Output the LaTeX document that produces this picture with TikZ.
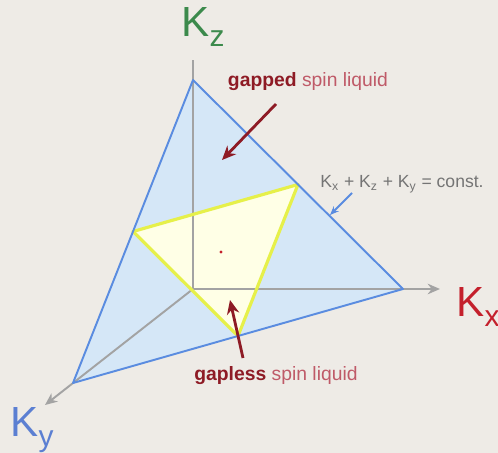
\documentclass[tikz,border=0pt]{standalone}
\usepackage{fontspec}
\setmainfont{Liberation Sans}
\usetikzlibrary{arrows.meta,calc}
\definecolor{paper}{HTML}{EEEBE6}
\definecolor{planefill}{HTML}{D5E7F7}
\definecolor{planeline}{HTML}{5A8CE0}
\definecolor{gapfill}{HTML}{FFFFE6}
\definecolor{gapline}{HTML}{E6F04A}
\definecolor{axisgray}{HTML}{A3A3A3}
\definecolor{kzcol}{HTML}{3C8A4C}
\definecolor{kxcol}{HTML}{C4202C}
\definecolor{kycol}{HTML}{5B7FD2}
\definecolor{darkred}{HTML}{8E1B25}
\definecolor{lightred}{HTML}{BF5A68}
\definecolor{constgray}{HTML}{747474}
\newcommand{\axsub}[1]{\raisebox{-0.22em}{\fontsize{17}{17}\selectfont #1}}

\begin{document}
\begin{tikzpicture}[
  x=0.02cm, y=-0.02cm,
  >=Stealth,
  font=\fontsize{10}{12}\selectfont,
  axis/.style={draw=axisgray,line width=1.1pt,-{Stealth[length=7pt,width=6pt]}},
  axislabel/.style={font=\fontsize{24}{28}\selectfont},
  phase/.style={text=lightred,font=\fontsize{11}{13}\selectfont},
  pointer/.style={draw=darkred,line width=1.6pt,-{Stealth[length=8pt,width=7pt]}}
]
  \fill[paper] (0,0) rectangle (498,453);
  \useasboundingbox (0,0) rectangle (498,453);

  % axes and the plane Kx+Ky+Kz = const
  \coordinate (O) at (193,289);
  \coordinate (A) at (193,80);
  \coordinate (B) at (403,289);
  \coordinate (C) at (73,383);
  \coordinate (P) at ($(A)!0.5!(C)$);
  \coordinate (Q) at ($(A)!0.5!(B)$);
  \coordinate (R) at ($(C)!0.5!(B)$);

  \fill[planefill] (A)--(B)--(C)--cycle;
  \fill[gapfill] (P)--(Q)--(R)--cycle;

  \node[axislabel,text=kzcol] (kz) at (203,27) {K\axsub{z}};
  \node[axislabel,text=kxcol] (kx) at (478,307) {K\axsub{x}};
  \node[axislabel,text=kycol] (ky) at (32,430) {K\axsub{y}};
  \coordinate (ztip) at (193,60);
  \coordinate (xtip) at (440,289);
  \coordinate (ytip) at (45,405);
  \draw[draw=axisgray,line width=1.1pt] (O)--(ztip);
  \draw[axis] (O)--(xtip);
  \draw[axis] (O)--(ytip);

  \draw[gapline,line width=1.8pt,line join=round] (P)--(Q)--(R)--cycle;
  \draw[planeline,line width=1.1pt,line join=round] (A)--(B)--(C)--cycle;
  \fill[kxcol] (221,252) circle (1.6);

  % phase labels
  \node[phase] (gapped) at (308,82) {\textcolor{darkred}{\textbf{gapped}} spin liquid};
  \node[phase] (gapless) at (276,376) {\textcolor{darkred}{\textbf{gapless}} spin liquid};
  \node[text=constgray] (const) at (402,184)
    {K\textsubscript{x} + K\textsubscript{z} + K\textsubscript{y} = const.};

  \coordinate (gapfrom) at (276,104);
  \coordinate (gapto) at (222,160);
  \coordinate (lessfrom) at (243,358);
  \coordinate (lessto) at (230,300);
  \coordinate (constfrom) at (352,193);
  \coordinate (constto) at (330,215);
  \draw[pointer] (gapfrom)--(gapto);
  \draw[pointer] (lessfrom)--(lessto);
  \draw[planeline,line width=1.1pt,-{Stealth[length=5pt,width=4pt]}] (constfrom)--(constto);
\end{tikzpicture}
\end{document}
